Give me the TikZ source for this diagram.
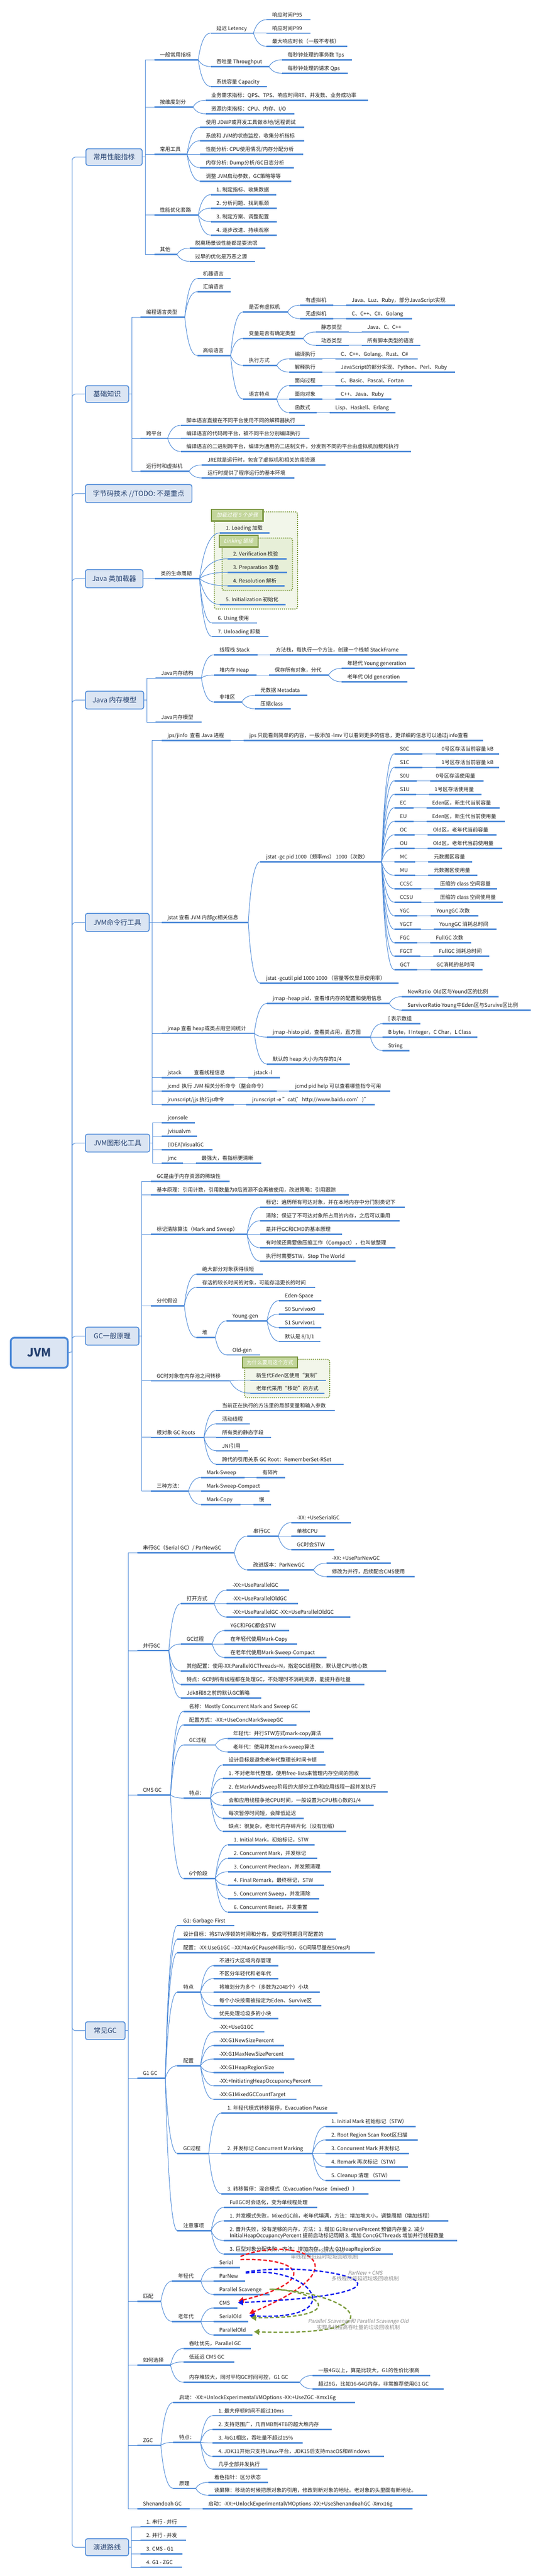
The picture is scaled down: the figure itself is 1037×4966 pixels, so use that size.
\documentclass[tikz,border=0pt]{standalone}
\usepackage{fontspec}
\setmainfont{Noto Sans CJK SC}[AutoFakeSlant=0.2]
\usetikzlibrary{arrows.meta,calc}
\definecolor{tb}{HTML}{4D8AD8}
\definecolor{boxfill}{HTML}{DBE5F3}
\definecolor{boxtext}{HTML}{24406F}
\definecolor{txt}{HTML}{1E1E1E}
\definecolor{bndline}{HTML}{7E9C3E}
\definecolor{bgA}{HTML}{F2F6EA}
\definecolor{bgB}{HTML}{E7EFD8}
\definecolor{labfill}{HTML}{C3D69B}
\definecolor{labline}{HTML}{77933C}
\definecolor{relred}{HTML}{F0141E}
\definecolor{relblue}{HTML}{0A18EE}
\definecolor{relgreen}{HTML}{7A9A3A}
\definecolor{relgray}{HTML}{8E8E8E}
\tikzset{
  tt/.style={anchor=base west,inner sep=0pt,text=txt,font=\fontsize{10}{12}\selectfont},
  ul/.style={line width=2.4pt,tb},
  cn/.style={line width=1pt,tb},
  l1/.style={anchor=north west,draw=tb,line width=1.6pt,fill=boxfill,rounded corners=4pt,text=boxtext,font=\fontsize{13.3}{15}\selectfont,inner sep=0pt},
  bnd/.style={draw=bndline,line width=2pt,dash pattern=on 2pt off 2pt,rounded corners=4pt},
  blab/.style={anchor=north west,draw=labline,fill=labfill,line width=2.2pt,text=white,font=\fontsize{10}{12}\selectfont,inner sep=0pt},
  rel/.style={line width=2.5pt,dash pattern=on 7pt off 4pt,-{Triangle[length=10pt,width=11pt]}},
  rl/.style={inner sep=0pt,text=relgray,font=\fontsize{10}{11}\selectfont}
}
\newcommand\mytp[5]{%
  \coordinate (#1a) at (#2,#4);
  \node[tt] (#1t) at (#2+11,#4-5.5) {#5};
  \path let \p1=(#1t.east), \p2=(#1a) in ({max(#3pt,\x1+11pt)},\y2) coordinate (#1b);
  \draw[ul] (#1a) -- (#1b);
}
\newcommand\mycv[2]{\draw[cn] let \p1=(#1b), \p2=(#2a) in (\p1) .. controls ({\x1+0.2*(\x2-\x1)},{\y1+0.667*(\y2-\y1)}) and ({\x2-0.467*(\x2-\x1)},\y2) .. (\p2);}
\newcommand\mycvs[2]{\foreach \ch in {#2}{\mycv{#1}{\ch}}}
\newcommand\myelb[2]{\foreach \ch in {#2}{\draw[cn] (#1.east) -- ([xshift=5pt]#1.east) |- (\ch a);}}
\newcommand\lvbox[6]{\node[l1,minimum width=#4-#2,minimum height=#5-#3] (#1) at (#2,#3) {#6};}
\begin{document}
\begin{tikzpicture}[x=1pt,y=-1pt]
\useasboundingbox (0,0) rectangle (1037,4966);
\fill[white] (0,0) rectangle (1037,4966);
% boundaries
\draw[bnd,fill=bgA] (413.5,986.7) rectangle (574,1174);
\draw[bnd,fill=bgB] (428.6,1037.3) rectangle (564.3,1138.3);
\draw[bnd,fill=bgA] (472,2620.7) rectangle (636,2694.3);
% root and level-1 boxes
\node[anchor=north west,draw=tb,line width=3.5pt,fill=boxfill,rounded corners=7pt,text=boxtext,font=\fontsize{22}{24}\selectfont\bfseries,minimum width=110,minimum height=58,inner sep=0pt] (root) at (19,2577) {JVM};
\lvbox{B1}{165}{286}{273.5}{318}{常用性能指标}
\lvbox{B2}{164}{742.7}{247.5}{775}{基础知识}
\lvbox{B3}{164}{933.3}{369.5}{968.3}{字节码技术 //TODO: 不是重点}
\lvbox{B4}{164}{1097.3}{275}{1132.3}{Java 类加载器}
\lvbox{B5}{164}{1331.7}{276.5}{1366}{Java 内存模型}
\lvbox{B6}{164}{1760}{287}{1795}{JVM命令行工具}
\lvbox{B7}{164}{2185.7}{288}{2220}{JVM图形化工具}
\lvbox{B8}{164}{2557.7}{267.2}{2592.3}{GC一般原理}
\lvbox{B9}{164}{3896.7}{240.6}{3931}{常见GC}
\lvbox{B10}{164}{4893.3}{247.3}{4926}{演进路线}
\draw[cn] (root.east) -- (139,2606);
\foreach \b in {B1,B2,B3,B4,B5,B6,B7,B8,B9,B10}{\draw[cn,rounded corners=7pt] (139,2606) |- (\b.west);}
% ---------- 常用性能指标
\mytp{a1}{297.5}{382.5}{115.3}{一般常用指标}
\mytp{a11}{406.5}{489}{63.7}{延迟 Letency}
\mytp{a111}{514}{599}{38}{响应时间P95}
\mytp{a112}{514}{599}{63.7}{响应时间P99}
\mytp{a113}{514}{670}{89.3}{最大响应时长（一般不考核）}
\mytp{a12}{406.5}{519}{128.3}{吞吐量 Throughput}
\mytp{a121}{544}{679}{115.3}{每秒钟处理的事务数 Tps}
\mytp{a122}{544}{671}{141.3}{每秒钟处理的请求 Qps}
\mytp{a13}{406.5}{515}{166.7}{系统容量 Capacity}
\mytp{a2}{297.5}{372.5}{206.3}{按维度划分}
\mytp{a21}{396.5}{710}{193.3}{业务需求指标：QPS、TPS、响应时间RT、并发数、业务成功率}
\mytp{a22}{396.5}{567.5}{219.3}{资源约束指标：CPU、内存、I/O}
\mytp{a3}{297.5}{361}{297.3}{常用工具}
\mytp{a31}{386}{586.5}{245.3}{使用 JDWP或开发工具做本地/远程调试}
\mytp{a32}{386}{586.5}{271.3}{系统和 JVM的状态监控，收集分析指标}
\mytp{a33}{386}{585}{297.3}{性能分析: CPU使用情况/内存分配分析}
\mytp{a34}{386}{566.5}{323.3}{内存分析: Dump分析/GC日志分析}
\mytp{a35}{386}{561.5}{349.3}{调整 JVM启动参数，GC策略等等}
\mytp{a4}{297.5}{382.5}{414.3}{性能优化套路}
\mytp{a41}{406.5}{532.5}{375.3}{1. 制定指标、收集数据}
\mytp{a42}{406.5}{534}{401.3}{2. 分析问题、找到瓶颈}
\mytp{a43}{406.5}{534}{427.3}{3. 制定方案、调整配置}
\mytp{a44}{406.5}{534}{453.3}{4. 逐步改进、持续观察}
\mytp{a5}{297.5}{341.5}{490.3}{其他}
\mytp{a51}{365.5}{511.5}{478.3}{脱离场景谈性能都是耍流氓}
\mytp{a52}{365.5}{491.5}{503.7}{过早的优化是万恶之源}
\myelb{B1}{a1,a2,a3,a4,a5}
\mycvs{a1}{a11,a12,a13}
\mycvs{a11}{a111,a112,a113}
\mycvs{a12}{a121,a122}
\mycvs{a2}{a21,a22}
\mycvs{a3}{a31,a32,a33,a34,a35}
\mycvs{a4}{a41,a42,a43,a44}
\mycvs{a5}{a51,a52}
% ---------- 基础知识
\mytp{b1}{271}{356.5}{611.3}{编程语言类型}
\mytp{b11}{380.5}{445}{537}{机器语言}
\mytp{b12}{380.5}{445}{562.3}{汇编语言}
\mytp{b13}{380.5}{445}{685.3}{高级语言}
\mytp{b131}{469}{555}{601.3}{是否有虚拟机}
\mytp{b1311}{578.5}{642.5}{588.3}{有虚拟机}
\mytp{b13111}{667.5}{878}{588.3}{Java、Luz、Ruby，部分JavaScript实现}
\mytp{b1312}{578.5}{642.5}{614.3}{无虚拟机}
\mytp{b13121}{667.5}{795}{614.3}{C、C++、C\#、Golang}
\mytp{b132}{469}{585}{652.3}{变量是否有确定类型}
\mytp{b1321}{608.5}{672.5}{640}{静态类型}
\mytp{b13211}{697.5}{789}{640}{Java、C、C++}
\mytp{b1322}{608.5}{672.5}{665.7}{动态类型}
\mytp{b13221}{697.5}{811}{665.7}{所有脚本类型的语言}
\mytp{b133}{469}{534}{704.3}{执行方式}
\mytp{b1331}{557.5}{621.5}{691.7}{编译执行}
\mytp{b13311}{646.5}{806}{691.7}{C、C++、Golang、Rust、C\#}
\mytp{b1332}{557.5}{621.5}{717.3}{解释执行}
\mytp{b13321}{646.5}{878}{717.3}{JavaScript的部分实现、Python、Perl、Ruby}
\mytp{b134}{469}{534}{769.3}{语言特点}
\mytp{b1341}{557.5}{621.5}{743.3}{面向过程}
\mytp{b13411}{646.5}{795}{743.3}{C、Basic、Pascal、Fortan}
\mytp{b1342}{557.5}{621.5}{769.3}{面向对象}
\mytp{b13421}{646.5}{755}{769.3}{C++、Java、Ruby}
\mytp{b1343}{557.5}{611}{795.3}{函数式}
\mytp{b13431}{636}{763}{795.3}{Lisp、Haskell、Erlang}
\mytp{b2}{271}{323.4}{845}{跨平台}
\mytp{b21}{348.5}{587.5}{820}{脚本语言直接在不同平台使用不同的解释器执行}
\mytp{b22}{348.5}{597}{845}{编译语言的代码跨平台，被不同平台分别编译执行}
\mytp{b23}{348.5}{793}{870.3}{编译语言的二进制跨平台，编译为通用的二进制文件，分发到不同的平台由虚拟机加载和执行}
\mytp{b3}{271}{364.7}{908.3}{运行时和虚拟机}
\mytp{b31}{389.4}{627.6}{896.3}{JRE就是运行时，包含了虚拟机和相关的库资源}
\mytp{b32}{389.4}{567.5}{921.3}{运行时提供了程序运行的基本环境}
\myelb{B2}{b1,b2,b3}
\mycvs{b1}{b11,b12,b13}
\mycvs{b13}{b131,b132,b133,b134}
\mycvs{b131}{b1311,b1312}
\mycvs{b1311}{b13111}
\mycvs{b1312}{b13121}
\mycvs{b132}{b1321,b1322}
\mycvs{b1321}{b13211}
\mycvs{b1322}{b13221}
\mycvs{b133}{b1331,b1332}
\mycvs{b1331}{b13311}
\mycvs{b1332}{b13321}
\mycvs{b134}{b1341,b1342,b1343}
\mycvs{b1341}{b13411}
\mycvs{b1342}{b13421}
\mycvs{b1343}{b13431}
\mycvs{b2}{b21,b22,b23}
\mycvs{b3}{b31,b32}
% ---------- Java 类加载器
\mytp{c1}{299}{385}{1115.3}{类的生命周期}
\mytp{c11}{424.3}{520.3}{1027.3}{1. Loading 加载}
\mytp{c12}{438.7}{553}{1077.3}{2. Verification 校验}
\mytp{c13}{438.7}{554}{1103.3}{3. Preparation 准备}
\mytp{c14}{438.7}{548.7}{1129.3}{4. Resolution 解析}
\mytp{c15}{424.3}{551.4}{1165.3}{5. Initialization 初始化}
\mytp{c16}{409.2}{495.6}{1201}{6. Using 使用}
\mytp{c17}{409.2}{518}{1227}{7. Unloading 卸载}
\draw[cn] (B4.east) -- (c1a);
\mycvs{c1}{c11,c12,c13,c14,c15,c16,c17}
% ---------- Java 内存模型
\mytp{d1}{300}{388.5}{1307}{Java内存结构}
\mytp{d11}{412.5}{496.5}{1262.3}{线程栈 Stack}
\mytp{d111}{521}{786}{1262.3}{方法栈，每执行一个方法，创建一个栈帧 StackFrame}
\mytp{d12}{412.5}{495}{1301.3}{堆内存 Heap}
\mytp{d121}{519}{634}{1301.3}{保存所有对象，分代}
\mytp{d1211}{659}{800}{1288.3}{年轻代 Young generation}
\mytp{d1212}{659}{786}{1314.3}{老年代 Old generation}
\mytp{d13}{412.5}{466.5}{1353.3}{非堆区}
\mytp{d131}{491.5}{592.5}{1340.3}{元数据 Metadata}
\mytp{d132}{491.5}{561}{1366.3}{压缩class}
\mytp{d2}{300}{388.5}{1392}{Java内存模型}
\myelb{B5}{d1,d2}
\mycvs{d1}{d11,d12,d13}
\mycvs{d11}{d111}
\mycvs{d12}{d121}
\mycvs{d121}{d1211,d1212}
\mycvs{d13}{d131,d132}
% ---------- JVM命令行工具
\mytp{e1}{312}{445}{1427.3}{jps/jinfo\ \ 查看 Java 进程}
\mytp{e11}{470}{932}{1427.3}{jps 只能看到简单的内容，一般添加 -lmv 可以看到更多的信息，更详细的信息可以通过jinfo查看}
\mytp{e2}{312}{479}{1778.3}{jstat 查看 JVM 内部gc相关信息}
\mytp{e21}{502.3}{736.2}{1661.3}{jstat -gc pid 1000（频率ms） 1000（次数）}
\mytp{e22}{502.3}{769.2}{1895.3}{jstat -gcutil pid 1000 1000 （容量等仅显示使用率）}
\foreach \kk/\vv/\yy/\ke/\vs/\ve [count=\idx] in {
 S0C/0号区存活当前容量 kB/1453.3/815/841/950,
 S1C/1号区存活当前容量 kB/1479.3/815/841/950,
 S0U/0号区存活使用量/1505.3/804/830/932.7,
 S1U/1号区存活使用量/1531.3/803/827.5/928.8,
 EC/Eden区，新生代当前容量/1557.3/798/822.6/964,
 EU/Eden区，新生代当前使用量/1583.3/798/822.6/974,
 OC/Old区，老年代当前容量/1609.3/800/824.5/958,
 OU/Old区，老年代当前使用量/1635.3/800/824.5/969,
 MC/元数据区容量/1661.3/801/826/911,
 MU/元数据区使用量/1687.3/801/826/920.6,
 CCSC/压缩的 class 空间容量/1713.3/813/838/959,
 CCSU/压缩的 class 空间使用量/1739.3/813/838/970,
 YGC/YoungGC 次数/1765.3/805/831/923,
 YGCT/YoungGC 消耗总时间/1791.3/812/836.6/958.4,
 FGC/FullGC 次数/1817.3/805/830/909,
 FGCT/FullGC 消耗总时间/1843.3/811/835.7/944,
 GCT/GC消耗的总时间/1869.3/805/831/931}{
  \mytp{k\idx}{760.5}{\ke}{\yy}{\kk}
  \mytp{v\idx}{\vs}{\ve}{\yy}{\vv}
  \mycv{e21}{k\idx}
  \mycv{k\idx}{v\idx}
}
\mytp{e3}{312}{490.6}{1992}{jmap 查看 heap或类占用空间统计}
\mytp{e31}{515}{751}{1934.3}{jmap -heap pid，查看堆内存的配置和使用信息}
\mytp{e311}{775}{962}{1921.3}{NewRatio\ \ Old区与Yound区的比例}
\mytp{e312}{775}{1023.6}{1947.3}{SurvivorRatio Young中Eden区与Survive区比例}
\mytp{e32}{515}{714.6}{1999.3}{jmap -histo pid，查看类占用，直方图}
\mytp{e321}{737.8}{811}{1973.3}{[ 表示数组}
\mytp{e322}{737.8}{920.6}{1999.3}{B byte，I Integer，C Char，L Class}
\mytp{e323}{737.8}{789.7}{2025.3}{String}
\mytp{e33}{515}{674.7}{2051.3}{默认的 heap 大小为内存的1/4}
\mytp{e4}{312}{453.3}{2077.3}{jstack\hspace{24pt}查看线程信息}
\mytp{e41}{478.6}{539.7}{2077.3}{jstack -l}
\mytp{e5}{312}{533.8}{2103.3}{jcmd\ \ 执行 JVM 相关分析命令（整合命令）}
\mytp{e51}{558.4}{753.1}{2103.3}{jcmd pid help 可以查看哪些指令可用}
\mytp{e6}{312}{450.7}{2129.3}{jrunscript/jjs 执行js命令}
\mytp{e61}{475.3}{704.6}{2129.3}{jrunscript -e "cat('http://www.baidu.com')"}
\myelb{B6}{e1,e2,e3,e4,e5,e6}
\mycvs{e1}{e11}
\mycvs{e2}{e21,e22}
\mycvs{e3}{e31,e32,e33}
\mycvs{e31}{e311,e312}
\mycvs{e32}{e321,e322,e323}
\mycvs{e4}{e41}
\mycvs{e5}{e51}
\mycvs{e6}{e61}
% ---------- JVM图形化工具
\mytp{f1}{312.4}{376.2}{2164.3}{jconsole}
\mytp{f2}{312.4}{380.2}{2190.3}{jvisualvm}
\mytp{f3}{312.4}{410}{2216.3}{(IDEA)VisualGC}
\mytp{f4}{312.4}{353}{2242.3}{jmc}
\mytp{f41}{377.6}{503.8}{2242.3}{最强大，看指标更清晰}
\myelb{B7}{f1,f2,f3,f4}
\mycvs{f4}{f41}
% ---------- GC一般原理
\mytp{g1}{291.1}{443.4}{2277.3}{GC是由于内存资源的稀缺性}
\mytp{g2}{291.1}{672.7}{2303.3}{基本原理：引用计数，引用数量为0后资源不会再被使用，改进策略：引用跟踪}
\mytp{g3}{291.1}{476.6}{2379.3}{标记清除算法（Mark and Sweep）}
\mytp{g31}{501.9}{781}{2327.3}{标记：遍历所有可达对象，并在本地内存中分门别类记下}
\mytp{g32}{501.9}{771}{2353.3}{清除：保证了不可达对象所占用的内存，之后可以重用}
\mytp{g33}{501.9}{660}{2379.3}{是并行GC和CMD的基本原理}
\mytp{g34}{501.9}{763}{2405.3}{有时候还需要做压缩工作（Compact），也叫做整理}
\mytp{g35}{501.9}{686}{2431.3}{执行时需要STW，Stop The World}
\mytp{g4}{291.1}{355.6}{2517.3}{分代假设}
\mytp{g41}{378.9}{506.5}{2456.3}{绝大部分对象获得很短}
\mytp{g42}{378.9}{608.2}{2481.7}{存活的较长时间的对象，可能存活更长的时间}
\mytp{g43}{378.9}{415.4}{2578.3}{堆}
\mytp{g431}{437.4}{515.1}{2546.3}{Young-gen}
\mytp{g4311}{538.4}{620.2}{2507.3}{Eden-Space}
\mytp{g4312}{538.4}{624.8}{2533.3}{S0 Survivor0}
\mytp{g4313}{538.4}{620.2}{2559.3}{S1 Survivor1}
\mytp{g4314}{538.4}{618.2}{2585.7}{默认是 8/1/1}
\mytp{g432}{437.4}{501.9}{2611.7}{Old-gen}
\mytp{g5}{291.1}{443.4}{2661.7}{GC时对象在内存池之间转移}
\mytp{g51}{483.2}{626.8}{2660.7}{新生代Eden区使用“复制”}
\mytp{g52}{483.2}{620.2}{2685.7}{老年代采用“移动”的方式}
\mytp{g6}{291.1}{393.5}{2770.7}{根对象 GC Roots}
\mytp{g61}{417.4}{646}{2718.7}{当前正在执行的方法里的局部变量和输入参数}
\mytp{g62}{417.4}{482}{2744.7}{活动线程}
\mytp{g63}{417.4}{523}{2770.7}{所有类的静态字段}
\mytp{g64}{417.4}{478.6}{2796.7}{JNI引用}
\mytp{g65}{417.4}{663.4}{2822.7}{跨代的引用关系 GC Root：RememberSet-RSet}
\mytp{g7}{291.1}{363.6}{2874.3}{三种方法：}
\mytp{g71}{387.5}{472}{2848.3}{Mark-Sweep}
\mytp{g711}{495.2}{550.4}{2848.3}{有碎片}
\mytp{g72}{387.5}{519.8}{2874.3}{Mark-Sweep-Compact}
\mytp{g73}{387.5}{464}{2900.3}{Mark-Copy}
\mytp{g731}{488.6}{523.1}{2900.3}{慢}
\myelb{B8}{g1,g2,g3,g4,g5,g6,g7}
\mycvs{g3}{g31,g32,g33,g34,g35}
\mycvs{g4}{g41,g42,g43}
\mycvs{g43}{g431,g432}
\mycvs{g431}{g4311,g4312,g4313,g4314}
\mycvs{g5}{g51,g52}
\mycvs{g6}{g61,g62,g63,g64,g65}
\mycvs{g7}{g71,g72,g73}
\mycvs{g71}{g711}
\mycvs{g73}{g731}
% ---------- 常见GC
\mytp{h1}{264.6}{452}{2993.3}{串行GC（Serial GC）/ ParNewGC}
\mytp{h11}{477.3}{537}{2961.3}{串行GC}
\mytp{h111}{561.7}{676.7}{2935.3}{-XX: +UseSerialGC}
\mytp{h112}{561.7}{627.5}{2961.3}{单核CPU}
\mytp{h113}{561.7}{645.4}{2987.3}{GC时会STW}
\mytp{h12}{477.3}{605}{3026.3}{改进版本：ParNewGC}
\mytp{h121}{629.5}{754.4}{3013.3}{-XX: +UseParNewGC}
\mytp{h122}{629.5}{800.3}{3039.3}{修改为并行，后续配合CMS使用}
\mytp{h2}{264.6}{325.7}{3182}{并行GC}
\mytp{h21}{349}{413.4}{3091.3}{打开方式}
\mytp{h211}{437.4}{558.4}{3065.3}{-XX:+UseParallelGC}
\mytp{h212}{437.4}{575}{3091.3}{-XX:+UseParallelOldGC}
\mytp{h213}{437.4}{676}{3117.3}{-XX:+UseParallelGC -XX:+UseParallelOldGC}
\mytp{h22}{349}{409.5}{3169.3}{GC过程}
\mytp{h221}{433.4}{558.4}{3143.3}{YGC和FGC都会STW}
\mytp{h222}{433.4}{573}{3169.3}{在年轻代使用Mark-Copy}
\mytp{h223}{433.4}{629.5}{3195.3}{在老年代使用Mark-Sweep-Compact}
\mytp{h23}{349}{744.5}{3221.3}{其他配置：使用-XX:ParallelGCThreads=N，指定GC线程数，默认是CPU核心数}
\mytp{h24}{349}{702.6}{3247.3}{特点：GC时所有线程都在处理GC，不处理时不消耗资源，能提升吞吐量}
\mytp{h25}{349}{503.8}{3273.3}{Jdk8和8之前的默认GC策略}
\mytp{h3}{264.6}{329}{3460.3}{CMS GC}
\mytp{h31}{353.6}{598.2}{3299.3}{名称：Mostly Concurrent Mark and Sweep GC}
\mytp{h32}{353.6}{571.6}{3325.3}{配置方式：-XX:+UseConcMarkSweepGC}
\mytp{h33}{353.6}{415.4}{3364}{GC过程}
\mytp{h331}{438.7}{643.4}{3351.3}{年轻代：并行STW方式mark-copy算法}
\mytp{h332}{438.7}{624.8}{3377.3}{老年代：使用并发mark-sweep算法}
\mytp{h34}{353.6}{405.5}{3466.3}{特点：}
\mytp{h341}{430}{627.5}{3402.3}{设计目标是避免老年代整理长时间卡顿}
\mytp{h342}{430}{714.6}{3428.3}{1. 不对老年代整理，使用free-lists来管理内存空间的回收}
\mytp{h343}{430}{747.8}{3454.3}{2. 在MarkAndSweep阶段的大部分工作和应用线程一起并发执行}
\mytp{h344}{430}{721.2}{3480.3}{会和应用线程争抢CPU时间，一般设置为CPU核心数的1/4}
\mytp{h345}{430}{586.3}{3505.3}{每次暂停时间短，会降低延迟}
\mytp{h346}{430}{668}{3530.3}{缺点：很复杂，老年代内存碎片化（没有压缩）}
\mytp{h35}{353.6}{415.4}{3621.3}{6个阶段}
\mytp{h351}{440}{606.9}{3556.3}{1. Initial Mark，初始标记，STW}
\mytp{h352}{440}{611.5}{3582.3}{2. Concurrent Mark，并发标记}
\mytp{h353}{440}{639.4}{3608.3}{3. Concurrent Preclean，并发预清理}
\mytp{h354}{440}{624.8}{3634.3}{4. Final Remark，最终标记，STW}
\mytp{h355}{440}{616.2}{3660.3}{5. Concurrent Sweep，并发清除}
\mytp{h356}{440}{613.5}{3686.3}{6. Concurrent Reset，并发重置}
\mytp{h4}{264.6}{319}{4006.3}{G1 GC}
\mytp{h41}{342.3}{452}{3712}{G1: Garbage-First}
\mytp{h42}{342.3}{648}{3738.3}{设计目标：将STW停顿的时间和分布，变成可预期且可配置的}
\mytp{h43}{342.3}{723.2}{3764.3}{配置：-XX:UseG1GC -{}-XX:MaxGCPauseMillis=50，GC间隔尽量在50ms内}
\mytp{h44}{342.3}{386.9}{3840.3}{特点}
\mytp{h441}{412}{537}{3789.3}{不进行大区域内存管理}
\mytp{h442}{412}{537}{3814.3}{不区分年轻代和老年代}
\mytp{h443}{412}{616.8}{3840.3}{将堆划分为多个（多数为2048个）小块}
\mytp{h444}{412}{619.5}{3866.3}{每个小块按需被指定为Eden、Survive区}
\mytp{h445}{412}{537}{3891.3}{优先处理垃圾多的小块}
\mytp{h45}{342.3}{386.9}{3982.3}{配置}
\mytp{h451}{412}{509.8}{3917}{-XX:+UseG1GC}
\mytp{h452}{412}{548.4}{3943.3}{-XX:G1NewSizePercent}
\mytp{h453}{412}{568.3}{3969.3}{-XX:G1MaxNewSizePercent}
\mytp{h454}{412}{548.4}{3995.3}{-XX:G1HeapRegionSize}
\mytp{h455}{412}{621.5}{4021}{-XX:+InitiatingHeapOccupancyPercent}
\mytp{h456}{412}{571.6}{4047}{-XX:G1MixedGCCountTarget}
\mytp{h46}{342.3}{402.8}{4151.3}{GC过程}
\mytp{h461}{427.4}{651.4}{4073.3}{1. 年轻代模式转移暂停，Evacuation Pause}
\mytp{h462}{427.4}{602.9}{4151.3}{2. 并发标记 Concurrent Marking}
\mytp{h4621}{628.1}{802.3}{4099.3}{1. Initial Mark 初始标记（STW）}
\mytp{h4622}{628.1}{806.3}{4125.3}{2. Root Region Scan Root区扫描}
\mytp{h4623}{628.1}{789}{4151.3}{3. Concurrent Mark 并发标记}
\mytp{h4624}{628.1}{787}{4177.3}{4. Remark 再次标记（STW）}
\mytp{h4625}{628.1}{772.4}{4203.3}{5. Cleanup 清理 （STW）}
\mytp{h463}{427.4}{711.2}{4229.3}{3. 转移暂停：混合模式（Evacuation Pause（mixed））}
\mytp{h47}{342.3}{407.5}{4300.3}{注意事项}
\mytp{h471}{432}{611.5}{4255.3}{FullGC时会退化，变为单线程处理}
\mytp{h472}{432}{865.4}{4281.3}{1. 并发模式失败，MixedGC前，老年代填满，方法：增加堆大小，调整周期（增加线程）}
\coordinate (h473a) at (432,4319.3);
\node[tt] (h473u) at (443,4301.5) {2. 晋升失败，没有足够的内存，方法：1. 增加 G1ReservePercent 预留内存量 2. 减少};
\node[tt] (h473t) at (443,4313.1) {InitialHeapOccupancyPercent 提前启动标记周期 3. 增加 ConcGCThreads 增加并行线程数量};
\path let \p1=(h473t.east), \p2=(h473a) in ({max(882pt,\x1+11pt)},\y2) coordinate (h473b);
\draw[ul] (h473a) -- (h473b);
\mytp{h474}{432}{757.8}{4345.3}{3. 巨型对象分配失败，方法：增加内存，增大 G1HeapRegionSize}
\mytp{h5}{264.6}{310.4}{4436.3}{匹配}
\mytp{h51}{332.4}{387.5}{4397.3}{年轻代}
\mytp{h511}{412}{463.3}{4371.3}{Serial}
\mytp{h512}{412}{473.3}{4397.3}{ParNew}
\mytp{h513}{412}{519.8}{4423.3}{Parallel Scavenge}
\mytp{h52}{332.4}{387.5}{4475.3}{老年代}
\mytp{h521}{412}{458}{4449.3}{CMS}
\mytp{h522}{412}{478.6}{4475.3}{SerialOld}
\mytp{h523}{412}{487.2}{4501.3}{ParallelOld}
\mytp{h6}{264.6}{329}{4559.3}{如何选择}
\mytp{h61}{353.6}{484}{4527.3}{吞吐优先，Parallel GC}
\mytp{h62}{353.6}{452}{4553.3}{低延迟 CMS GC}
\mytp{h63}{353.6}{578.3}{4592.3}{内存堆较大，同时平均GC时间可控，G1 GC}
\mytp{h631}{603}{829.6}{4579.3}{一般4G以上，算是比较大，G1的性价比很高}
\mytp{h632}{603}{856.2}{4605.3}{超过8G，比如16-64G内存，非常推荐使用G1 GC}
\mytp{h7}{264.6}{310.4}{4714}{ZGC}
\mytp{h71}{334.4}{684.6}{4631.3}{启动：-XX:+UnlockExperimentalVMOptions -XX:+UseZGC -Xmx16g}
\mytp{h72}{334.4}{386.9}{4708.3}{特点：}
\mytp{h721}{410.1}{564.3}{4657}{1. 最大停顿时间不超过10ms}
\mytp{h722}{410.1}{640.1}{4683.3}{2. 支持范围广，几百MB到4TB的超大堆内存}
\mytp{h723}{410.1}{583.6}{4709.3}{3. 与G1相比，吞吐量不超过15\%}
\mytp{h724}{410.1}{741.1}{4735.3}{4. JDK11开始只支持Linux平台，JDK15后支持macOS和Windows}
\mytp{h725}{410.1}{515.8}{4760}{几乎全部并发执行}
\mytp{h73}{334.4}{377.6}{4797}{原理}
\mytp{h731}{402.1}{517.1}{4785.3}{着色指针：区分状态}
\mytp{h732}{402.1}{824.2}{4810.3}{读屏障：移动的时候把原对象的引用，修改到新对象的地址。老对象的头里面有新地址。}
\mytp{h8}{264.6}{365.6}{4836.3}{Shenandoah GC}
\mytp{h81}{390.8}{795.7}{4836.3}{启动：-XX:+UnlockExperimentalVMOptions -XX:+UseShenandoahGC -Xmx16g}
\myelb{B9}{h1,h2,h3,h4,h5,h6,h7,h8}
\mycvs{h1}{h11,h12}
\mycvs{h11}{h111,h112,h113}
\mycvs{h12}{h121,h122}
\mycvs{h2}{h21,h22,h23,h24,h25}
\mycvs{h21}{h211,h212,h213}
\mycvs{h22}{h221,h222,h223}
\mycvs{h3}{h31,h32,h33,h34,h35}
\mycvs{h33}{h331,h332}
\mycvs{h34}{h341,h342,h343,h344,h345,h346}
\mycvs{h35}{h351,h352,h353,h354,h355,h356}
\mycvs{h4}{h41,h42,h43,h44,h45,h46,h47}
\mycvs{h44}{h441,h442,h443,h444,h445}
\mycvs{h45}{h451,h452,h453,h454,h455,h456}
\mycvs{h46}{h461,h462,h463}
\mycvs{h462}{h4621,h4622,h4623,h4624,h4625}
\mycvs{h47}{h471,h472,h473,h474}
\mycvs{h5}{h51,h52}
\mycvs{h51}{h511,h512,h513}
\mycvs{h52}{h521,h522,h523}
\mycvs{h6}{h61,h62,h63}
\mycvs{h63}{h631,h632}
\mycvs{h7}{h71,h72,h73}
\mycvs{h72}{h721,h722,h723,h724,h725}
\mycvs{h73}{h731,h732}
\mycvs{h8}{h81}
% ---------- 演进路线
\mytp{i1}{271.2}{360.3}{4871}{1. 串行 - 并行}
\mytp{i2}{271.2}{359}{4897}{2. 并行 - 并发}
\mytp{i3}{271.2}{352.3}{4923.3}{3. CMS - G1}
\mytp{i4}{271.2}{351}{4949}{4. G1 - ZGC}
\myelb{B10}{i1,i2,i3,i4}
% ---------- boundary labels
\node[blab,minimum width=99.4,minimum height=22.6] (lb1) at (407,980.7) {\itshape 加载过程 5 个步骤};
\node[blab,minimum width=75.1,minimum height=22.6] (lb2) at (421.6,1030.7) {\itshape Linking 链接};
\node[blab,minimum width=106.4,minimum height=21] (lb3) at (466.6,2615) {为什么要用这个方式};
% ---------- relationship arrows
\coordinate (rS1) at (464,4356);
\coordinate (rS2) at (464,4350);
\coordinate (rP1) at (474,4380);
\coordinate (rP2) at (474,4382);
\coordinate (rG1) at (520,4413);
\coordinate (rG2) at (525,4413);
\coordinate (tC1) at (460,4436);
\coordinate (tC2) at (459,4439);
\coordinate (tO1) at (481,4460);
\coordinate (tO2) at (481,4464);
\coordinate (tO3) at (484,4468);
\coordinate (tQ) at (490,4495);
\draw[rel,relred] (rS1) .. controls (590,4352) and (610,4400) .. (tC1);
\draw[rel,relred] (rS2) .. controls (560,4310) and (720,4360) .. (tO1);
\draw[rel,relblue] (rP1) .. controls (620,4355) and (880,4420) .. (tC2);
\draw[rel,relblue] (rP2) .. controls (600,4365) and (680,4475) .. (tO2);
\draw[rel,relgreen] (rG1) .. controls (620,4415) and (680,4470) .. (tO3);
\draw[rel,relgreen] (rG2) .. controls (680,4420) and (780,4505) .. (tQ);
\node[rl] (rl1) at (625,4339) {\itshape Serial+Serial Old};
\node[rl] (rl2) at (626,4350.7) {单线程的低延时垃圾回收机制};
\node[rl] (rl3) at (704.6,4381.7) {\itshape ParNew + CMS};
\node[rl] (rl4) at (704.6,4392.7) {多线程的低延迟垃圾回收机制};
\node[rl] (rl5) at (691.3,4475.7) {\itshape Parallel Scavenge和 Parallel Scavenge Old};
\node[rl] (rl6) at (691.3,4486.7) {实现多线程高吞吐量的垃圾回收机制};
\end{tikzpicture}
\end{document}
